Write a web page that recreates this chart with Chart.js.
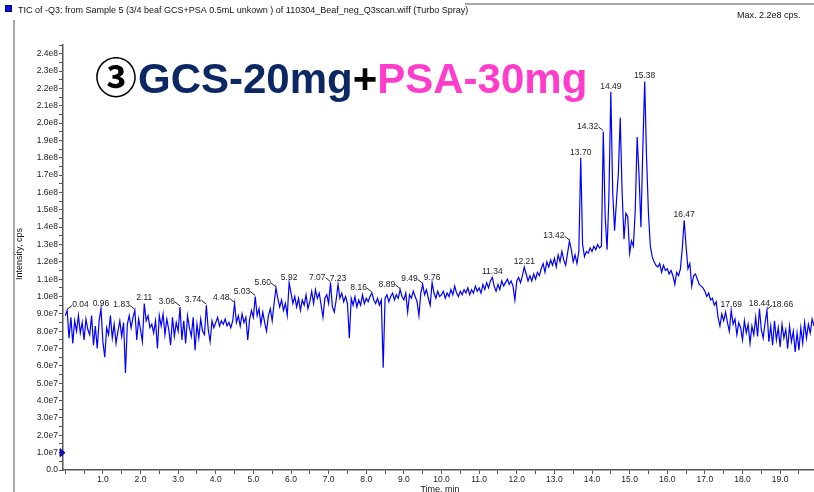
<!DOCTYPE html>
<html>
<head>
<meta charset="utf-8">
<script src="https://cdn.jsdelivr.net/npm/chart.js@4.4.1/dist/chart.umd.min.js"></script>
<style>
  html, body { margin: 0; padding: 0; background: #fff; }
  #wrap { position: relative; width: 814px; height: 492px; }
</style>
</head>
<body>
<div id="wrap"><canvas id="ticChart" width="814" height="492"></canvas></div>
<script>
// TIC of -Q3, sample 5 - intensity in units of 1e7 cps
const headerText = "TIC of -Q3: from Sample 5 (3/4 beaf GCS+PSA 0.5mL unkown ) of 110304_Beaf_neg_Q3scan.wiff (Turbo Spray)";
const maxText = "Max. 2.2e8 cps.";
const xTitle = "Time, min";
const yTitle = "Intensity, cps";

const scanTimes = [
    0.00, 0.05, 0.10, 0.15, 0.20, 0.25, 0.30, 0.35, 0.40, 0.45, 0.50, 0.55, 0.60, 0.65, 0.70, 0.75, 0.80, 0.85, 0.90, 0.95,
    1.00, 1.05, 1.10, 1.15, 1.20, 1.25, 1.30, 1.35, 1.40, 1.45, 1.50, 1.55, 1.60, 1.65, 1.70, 1.75, 1.80, 1.85, 1.90, 1.95,
    2.00, 2.05, 2.10, 2.15, 2.20, 2.25, 2.30, 2.35, 2.40, 2.45, 2.50, 2.55, 2.60, 2.65, 2.70, 2.75, 2.80, 2.85, 2.90, 2.95,
    3.00, 3.05, 3.10, 3.15, 3.20, 3.25, 3.30, 3.35, 3.40, 3.45, 3.50, 3.55, 3.60, 3.65, 3.70, 3.75, 3.80, 3.85, 3.90, 3.95,
    4.00, 4.05, 4.10, 4.15, 4.20, 4.25, 4.30, 4.35, 4.40, 4.45, 4.50, 4.55, 4.60, 4.65, 4.70, 4.75, 4.80, 4.85, 4.90, 4.95,
    5.00, 5.05, 5.10, 5.15, 5.20, 5.25, 5.30, 5.35, 5.40, 5.45, 5.50, 5.55, 5.60, 5.65, 5.70, 5.75, 5.80, 5.85, 5.90, 5.95,
    6.00, 6.05, 6.10, 6.15, 6.20, 6.25, 6.30, 6.35, 6.40, 6.45, 6.50, 6.55, 6.60, 6.65, 6.70, 6.75, 6.80, 6.85, 6.90, 6.95,
    7.00, 7.05, 7.10, 7.15, 7.20, 7.25, 7.30, 7.35, 7.40, 7.45, 7.50, 7.55, 7.60, 7.65, 7.70, 7.75, 7.80, 7.85, 7.90, 7.95,
    8.00, 8.05, 8.10, 8.15, 8.20, 8.25, 8.30, 8.35, 8.40, 8.45, 8.50, 8.55, 8.60, 8.65, 8.70, 8.75, 8.80, 8.85, 8.90, 8.95,
    9.00, 9.05, 9.10, 9.15, 9.20, 9.25, 9.30, 9.35, 9.40, 9.45, 9.50, 9.55, 9.60, 9.65, 9.70, 9.75, 9.80, 9.85, 9.90, 9.95,
    10.00, 10.05, 10.10, 10.15, 10.20, 10.25, 10.30, 10.35, 10.40, 10.45, 10.50, 10.55, 10.60, 10.65, 10.70, 10.75, 10.80, 10.85, 10.90, 10.95,
    11.00, 11.05, 11.10, 11.15, 11.20, 11.25, 11.30, 11.35, 11.40, 11.45, 11.50, 11.55, 11.60, 11.65, 11.70, 11.75, 11.80, 11.85, 11.90, 11.95,
    12.00, 12.05, 12.10, 12.15, 12.20, 12.25, 12.30, 12.35, 12.40, 12.45, 12.50, 12.55, 12.60, 12.65, 12.70, 12.75, 12.80, 12.85, 12.90, 12.95,
    13.00, 13.05, 13.10, 13.15, 13.20, 13.25, 13.30, 13.35, 13.40, 13.45, 13.50, 13.55, 13.60, 13.65, 13.70, 13.75, 13.80, 13.85, 13.90, 13.95,
    14.00, 14.05, 14.10, 14.15, 14.20, 14.25, 14.30, 14.35, 14.40, 14.45, 14.50, 14.55, 14.60, 14.65, 14.70, 14.75, 14.80, 14.85, 14.90, 14.95,
    15.00, 15.05, 15.10, 15.15, 15.20, 15.25, 15.30, 15.35, 15.40, 15.45, 15.50, 15.55, 15.60, 15.65, 15.70, 15.75, 15.80, 15.85, 15.90, 15.95,
    16.00, 16.05, 16.10, 16.15, 16.20, 16.25, 16.30, 16.35, 16.40, 16.45, 16.50, 16.55, 16.60, 16.65, 16.70, 16.75, 16.80, 16.85, 16.90, 16.95,
    17.00, 17.05, 17.10, 17.15, 17.20, 17.25, 17.30, 17.35, 17.40, 17.45, 17.50, 17.55, 17.60, 17.65, 17.70, 17.75, 17.80, 17.85, 17.90, 17.95,
    18.00, 18.05, 18.10, 18.15, 18.20, 18.25, 18.30, 18.35, 18.40, 18.45, 18.50, 18.55, 18.60, 18.65, 18.70, 18.75, 18.80, 18.85, 18.90, 18.95,
    19.00, 19.05, 19.10, 19.15, 19.20, 19.25, 19.30, 19.35, 19.40, 19.45, 19.50, 19.55, 19.60, 19.65, 19.70, 19.75, 19.80, 19.85, 19.90
];

const intensityE7 = [
    8.9, 9.2, 7.6, 8.8, 7.3, 8.6, 8.0, 8.9, 7.9, 8.5, 7.5, 8.7, 8.1, 7.8, 8.9, 7.2, 8.3, 7.0, 8.6, 9.3,
    7.4, 6.5, 8.2, 7.8, 8.9, 7.6, 8.4, 7.3, 8.0, 8.6, 7.7, 8.5, 5.6, 8.4, 8.9, 8.2, 8.8, 9.2, 7.5, 8.7,
    8.1, 7.4, 9.6, 8.6, 8.9, 8.2, 8.4, 7.9, 8.6, 7.0, 8.9, 8.3, 9.0, 7.8, 8.7, 8.1, 7.2, 8.8, 7.7, 8.5,
    8.0, 9.4, 7.5, 8.6, 7.3, 8.9, 8.2, 7.7, 8.8, 6.9, 8.4, 7.6, 8.7, 8.0, 7.8, 9.5, 8.1, 7.4, 8.6, 8.2,
    8.5, 8.8, 8.3, 8.6, 8.4, 8.7, 8.3, 8.5, 8.2, 8.6, 9.6, 8.5, 8.9, 8.3, 9.0, 8.5, 8.8, 7.5, 8.7, 9.2,
    8.8, 10.0, 8.9, 9.3, 8.4, 9.1, 8.5, 8.0, 8.9, 9.3, 8.6, 9.6, 10.5, 9.9, 9.4, 9.8, 9.2, 9.6, 8.9, 10.8,
    10.2, 9.6, 10.0, 9.4, 9.9, 9.2, 9.8, 9.5, 10.1, 9.3, 9.7, 10.3, 9.6, 10.4, 9.9, 10.2, 9.5, 8.8, 9.9, 10.1,
    9.6, 10.8, 9.4, 9.1, 9.8, 10.7, 9.9, 10.2, 9.7, 10.0, 9.6, 7.6, 9.9, 9.5, 10.0, 9.4, 9.8, 9.5, 10.1, 9.6,
    9.9, 9.7, 10.0, 10.2, 9.8, 9.6, 9.9, 9.5, 9.8, 5.9, 9.9, 10.1, 9.7, 10.0, 10.2, 9.8, 10.1, 9.9, 10.4, 10.0,
    9.8, 10.2, 9.1, 10.1, 9.9, 10.3, 10.0, 9.7, 8.9, 10.2, 10.7, 10.1, 10.4, 9.9, 9.5, 10.8, 10.2, 9.9, 10.3, 10.0,
    10.1, 10.3, 9.9, 10.2, 10.0, 10.4, 10.1, 10.6, 10.2, 10.0, 10.3, 10.1, 10.4, 10.2, 10.5, 10.1, 10.4, 10.2, 10.6, 10.3,
    10.5, 10.2, 10.7, 10.4, 10.8, 10.5, 10.9, 11.1, 10.6, 10.3, 10.7, 10.4, 10.9, 10.6, 10.8, 11.0, 10.7, 10.9, 10.6, 9.8,
    10.9, 11.1, 10.8, 11.2, 11.7, 11.3, 10.9, 11.2, 10.9, 11.3, 11.0, 11.4, 11.2, 11.6, 11.9, 11.4, 12.0, 11.7, 12.1, 11.8,
    12.2, 11.7, 12.4, 12.0, 12.6, 12.1, 11.8, 12.5, 13.2, 12.7, 12.0, 12.4, 11.9, 12.6, 18.0, 13.0, 12.3, 12.6, 12.5, 12.8,
    12.6, 12.9, 12.7, 13.0, 12.8, 12.9, 19.5, 14.6, 12.7, 15.8, 21.8, 16.0, 13.8, 15.5, 17.1, 20.3, 16.0, 13.3, 14.8, 14.6,
    12.5, 13.2, 12.9, 15.0, 19.2, 17.0, 14.0, 18.5, 22.4, 18.0, 14.8, 12.9, 12.3, 12.0, 11.8, 11.7, 11.9, 11.4, 11.8, 11.5,
    11.6, 11.3, 11.5, 11.2, 10.7, 11.4, 11.2, 11.6, 12.8, 14.4, 12.9, 11.6, 11.9, 10.6, 11.2, 11.3, 11.0, 10.7, 10.6, 10.5,
    10.3, 10.0, 10.2, 9.8, 9.9, 9.5, 9.7, 8.8, 8.3, 9.0, 8.6, 9.1, 8.5, 8.0, 9.2, 8.4, 8.7, 7.8, 8.5, 8.2,
    7.5, 8.6, 7.9, 8.4, 7.3, 8.3, 7.8, 8.8, 7.7, 9.3, 8.1, 7.6, 8.5, 9.2, 7.4, 8.3, 7.2, 8.6, 7.5, 8.2,
    7.1, 8.4, 7.6, 8.1, 7.0, 8.3, 7.4, 8.0, 6.8, 7.9, 6.9, 8.2, 7.3, 8.5, 7.6, 8.4, 7.9, 8.7, 8.3
];

// labelled retention times
const peakTimes = [0.04, 0.96, 1.83, 2.11, 3.06, 3.74, 4.48, 5.03, 5.60, 5.92, 7.07, 7.23, 8.16, 8.89,
    9.49, 9.76, 11.34, 12.21, 13.42, 13.70, 14.32, 14.49, 15.38, 16.47, 17.69, 18.44, 18.66];
// labels drawn left of the peak with a leader / right of the peak
const leftLabelled = [1.83, 3.06, 3.74, 4.48, 5.03, 5.60, 7.07, 8.16, 8.89, 9.49, 13.42, 14.32];
const rightLabelled = [0.04, 18.66];

const thresholdE7 = 1.0;

const LABEL_FONT = '8.5px "Liberation Sans", Arial, sans-serif';

function yTickLabel(v) {
    if (Math.abs(v - Math.round(v)) > 1e-6) return "";
    if (v === 0) return "0.0";
    if (v < 10) return v.toFixed(1) + "e7";
    return (v / 10).toFixed(1) + "e8";
}

const decorPlugin = {
    id: "decor",
    afterDraw(chart) {
        const ctx = chart.ctx;
        const xs = chart.scales.x;
        const ys = chart.scales.y;
        ctx.save();

        // window frame
        ctx.strokeStyle = "#8a8a8a";
        ctx.lineWidth = 1.5;
        ctx.beginPath();
        ctx.moveTo(14, 492);
        ctx.lineTo(14, 4);
        ctx.lineTo(814, 4);
        ctx.stroke();

        // header
        ctx.fillStyle = "#ffffff";
        ctx.fillRect(3, 0, 462, 20);
        ctx.fillStyle = "#1010ee";
        ctx.fillRect(5, 5, 7, 7);
        ctx.strokeStyle = "#000060";
        ctx.lineWidth = 1;
        ctx.strokeRect(5.5, 5.5, 6, 6);
        ctx.fillStyle = "#111";
        ctx.font = '9px "Liberation Sans", Arial, sans-serif';
        ctx.textBaseline = "alphabetic";
        ctx.textAlign = "left";
        ctx.fillText(headerText, 18, 13);
        ctx.fillText(maxText, 737, 18);

        // axis titles
        ctx.save();
        ctx.translate(22, 254);
        ctx.rotate(-Math.PI / 2);
        ctx.textAlign = "center";
        ctx.fillText(yTitle, 0, 0);
        ctx.restore();
        ctx.textAlign = "center";
        ctx.textBaseline = "top";
        ctx.fillText(xTitle, 440, 485);

        // threshold marker
        const ty = ys.getPixelForValue(thresholdE7);
        ctx.fillStyle = "#1010ee";
        ctx.strokeStyle = "#000060";
        ctx.beginPath();
        ctx.moveTo(60, ty - 4);
        ctx.lineTo(65, ty);
        ctx.lineTo(60, ty + 4);
        ctx.closePath();
        ctx.fill();
        ctx.stroke();

        // peak labels
        ctx.font = LABEL_FONT;
        ctx.fillStyle = "#222";
        ctx.strokeStyle = "#222";
        ctx.lineWidth = 1;
        ctx.textBaseline = "alphabetic";
        peakTimes.forEach(pt => {
            let best = -1;
            scanTimes.forEach((t, i) => {
                if (Math.abs(t - pt) <= 0.061 && (best < 0 || intensityE7[i] > intensityE7[best])) best = i;
            });
            if (best < 0) return;
            const px = xs.getPixelForValue(scanTimes[best]);
            const py = ys.getPixelForValue(intensityE7[best]);
            const txt = pt.toFixed(2);
            if (leftLabelled.includes(pt)) {
                ctx.textAlign = "right";
                ctx.fillText(txt, px - 5, py - 3);
                ctx.beginPath();
                ctx.moveTo(px - 5, py - 5);
                ctx.lineTo(px, py - 1);
                ctx.stroke();
            } else if (rightLabelled.includes(pt)) {
                ctx.textAlign = "left";
                ctx.fillText(txt, px + 5, py - 3);
                ctx.beginPath();
                ctx.moveTo(px, py - 1);
                ctx.lineTo(px + 5, py - 5);
                ctx.stroke();
            } else {
                ctx.textAlign = "center";
                ctx.fillText(txt, px, py - 3);
            }
        });

        // big title
        const base = 93;
        let cx = 95;
        ctx.textAlign = "left";
        ctx.textBaseline = "alphabetic";
        ctx.font = 'bold 42px "Noto Sans CJK JP", "DejaVu Sans", sans-serif';
        ctx.fillStyle = "#000";
        ctx.fillText("\u2462", cx, base);
        cx += ctx.measureText("\u2462").width + 1;
        ctx.font = 'bold 42px "Liberation Sans", Arial, sans-serif';
        const parts = [["GCS-20mg", "#0c2864"], ["+", "#000000"], ["PSA-30mg", "#ff3ccc"]];
        parts.forEach(([s, c]) => {
            ctx.fillStyle = c;
            ctx.fillText(s, cx, base);
            cx += ctx.measureText(s).width;
        });

        ctx.restore();
    }
};

const ctx = document.getElementById("ticChart").getContext("2d");
const ticChart = new Chart(ctx, {
    type: "line",
    data: {
        datasets: [{
            label: "TIC",
            data: scanTimes.map((t, i) => ({ x: t, y: intensityE7[i] })),
            borderColor: "#0000ff",
            borderWidth: 1.2,
            pointRadius: 0,
            tension: 0,
            fill: false
        }]
    },
    options: {
        responsive: false,
        animation: false,
        layout: { padding: { top: 45, right: 0, left: 0, bottom: 0 } },
        plugins: { legend: { display: false }, tooltip: { enabled: false } },
        scales: {
            x: {
                type: "linear",
                min: -0.06,
                max: 19.9,
                afterFit: s => { s.height = 22; },
                border: { display: true, color: "#555", width: 1.5 },
                grid: { drawOnChartArea: false, drawTicks: true, tickLength: 4, color: "#555" },
                ticks: {
                    stepSize: 0.5,
                    includeBounds: false,
                    autoSkip: false,
                    maxRotation: 0,
                    padding: 1,
                    color: "#222",
                    font: { family: '"Liberation Sans", Arial, sans-serif', size: 8.5 },
                    callback: v => (v > 0 && Math.abs(v - Math.round(v)) < 1e-6) ? v.toFixed(1) : ""
                }
            },
            y: {
                type: "linear",
                min: 0,
                max: 24.5,
                afterFit: s => { s.width = 63; },
                border: { display: true, color: "#555", width: 1.5 },
                grid: { drawOnChartArea: false, drawTicks: true, tickLength: 4, color: "#555" },
                ticks: {
                    stepSize: 0.5,
                    autoSkip: false,
                    padding: 1,
                    color: "#222",
                    font: { family: '"Liberation Sans", Arial, sans-serif', size: 8.5 },
                    callback: yTickLabel
                }
            }
        }
    },
    plugins: [decorPlugin]
});
</script>
</body>
</html>
